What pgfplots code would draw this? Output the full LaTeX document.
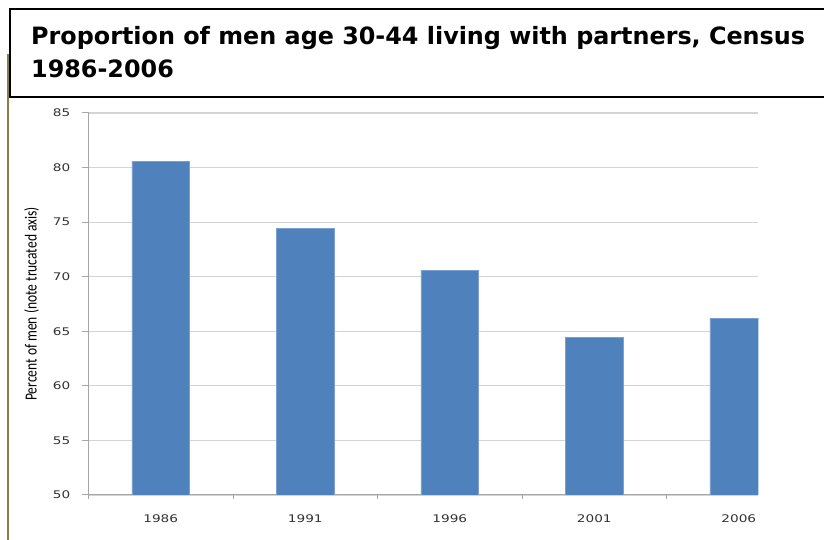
\documentclass[border=0pt]{standalone}
\usepackage{pgfplots}
\pgfplotsset{compat=1.18}
\usepackage{fontspec}
\setmainfont{DejaVu Sans}
\newfontfamily\titlefont{DejaVu Sans}
\newfontfamily\tickfont[FakeStretch=1.3]{DejaVu Sans}
\newfontfamily\labfont[FakeStretch=0.8]{Carlito}
\definecolor{barblue}{RGB}{79,129,189}
\definecolor{baredge}{RGB}{125,160,208}
\definecolor{gridc}{RGB}{212,212,212}
\definecolor{axisc}{RGB}{166,166,166}
\definecolor{tickc}{RGB}{50,50,50}
\definecolor{olivec}{RGB}{140,126,74}
\begin{document}
\begin{tikzpicture}[x=1pt,y=1pt]
\clip (0,0) rectangle (824,540);
\fill[white] (0,0) rectangle (824,540);
\begin{axis}[
  at={(88.5pt,45pt)}, anchor=south west,
  scale only axis, width=669.8pt, height=382pt,
  xmin=-0.5, xmax=4.135, ymin=50, ymax=85,
  ytick={50,55,60,65,70,75,80,85},
  xtick={0,1,2,3,4},
  xticklabels={1986,1991,1996,2001,2006},
  minor xtick={-0.5,0.5,1.5,2.5,3.5},
  axis x line*=bottom, axis y line*=left,
  axis line style={draw=axisc, line width=1pt, -},
  tick align=outside,
  major tick length=7pt, minor tick length=4pt,
  xtick style={draw=none},
  minor x tick style={draw=axisc, line width=1pt},
  ytick style={draw=axisc, line width=1pt},
  ymajorgrids, major grid style={draw=gridc, line width=1.2pt},
  /pgf/number format/assume math mode=true,
  tick label style={font=\fontsize{10.5}{12}\tickfont, text=tickc},
  yticklabel style={anchor=east, inner sep=0pt, xshift=-11pt},
  xticklabel style={anchor=base, inner sep=0pt, yshift=-20.7pt},
  ylabel={Percent of men (note trucated axis)},
  ylabel style={font=\fontsize{16.9}{18}\labfont, text=black, at={(axis description cs:-0.0851,0.5)}, anchor=center},
  ybar, bar width=57.7pt,
  clip=true,
]
\addplot[fill=barblue, draw=baredge, line width=0.8pt] coordinates {(0,80.6) (1,74.4) (2,70.6) (3,64.4) (4,66.2)};
\end{axis}
\draw[line width=2pt] (9.5,443) rectangle (840,531);
\draw[olivec, line width=2pt] (7.5,486) -- (7.5,-5);
\node[anchor=base west, inner sep=0pt, font=\fontsize{23.85}{28}\bfseries\titlefont] at (31,495) {Proportion of men age 30-44 living with partners, Census};
\node[anchor=base west, inner sep=0pt, font=\fontsize{23.85}{28}\bfseries\titlefont] at (31,462.7) {1986-2006};
\end{tikzpicture}
\end{document}
